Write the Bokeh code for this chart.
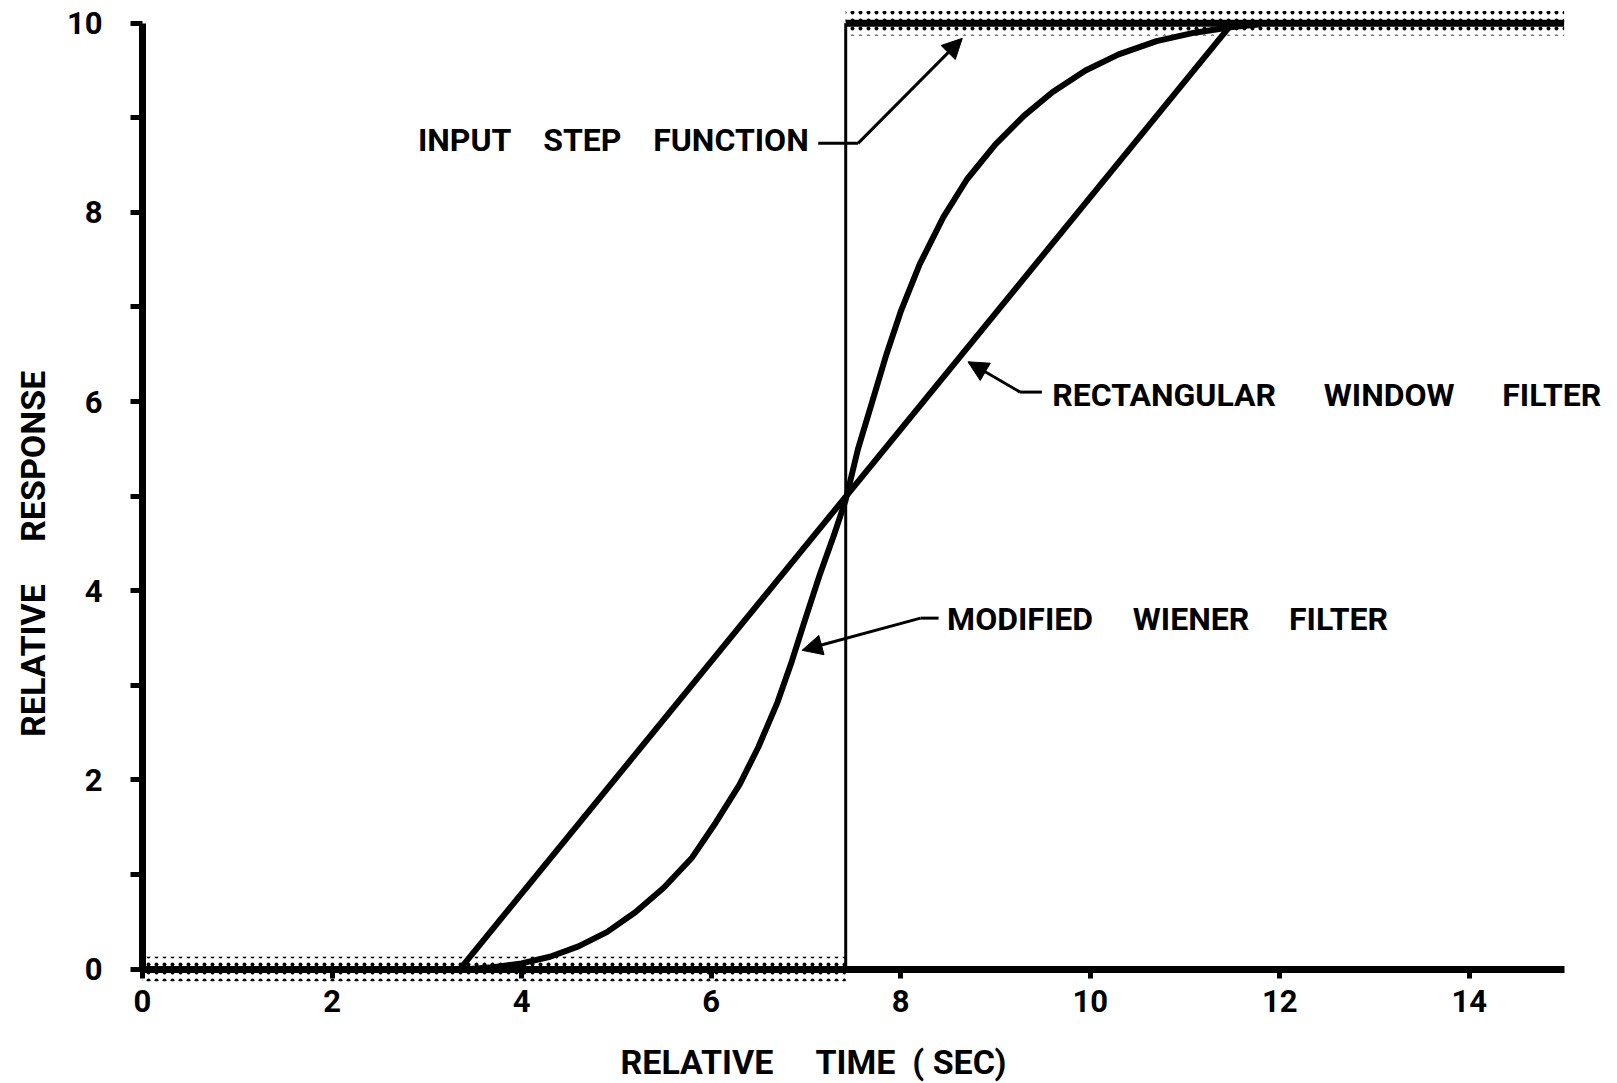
import math

from bokeh.plotting import figure
from bokeh.models import Range1d, Arrow, NormalHead, FixedTicker, Label
from bokeh.core.properties import value
from bokeh.embed import file_html
from bokeh.resources import INLINE

# Input step function
step_time = 7.42
step_low = 0.0
step_high = 10.0
t_start = 0.0
t_end = 15.0

# Rectangular window filter response (linear ramp)
rect_t = [3.35, 11.5]
rect_r = [0.0, 10.0]

# Modified Wiener filter response
wiener_t = [3.45, 3.7, 4.0, 4.3, 4.6, 4.9, 5.2, 5.5, 5.8, 6.05, 6.3, 6.5, 6.7, 6.85,
            7.0, 7.15, 7.3, 7.42, 7.55, 7.7, 7.85, 8.0, 8.2, 8.45, 8.7, 9.0, 9.3,
            9.6, 9.95, 10.3, 10.7, 11.1, 11.5, 11.8]
wiener_r = [0.0, 0.02, 0.06, 0.13, 0.24, 0.39, 0.6, 0.86, 1.18, 1.55, 1.95, 2.35, 2.82, 3.25,
            3.72, 4.18, 4.6, 4.96, 5.5, 6.0, 6.5, 6.95, 7.45, 7.95, 8.35, 8.72, 9.02,
            9.27, 9.5, 9.67, 9.81, 9.9, 9.96, 9.99]

x_ticks = [0, 2, 4, 6, 8, 10, 12, 14]
y_ticks = [0, 2, 4, 6, 8, 10]
y_minor = [1, 3, 5, 7, 9]

FONT = "Roboto"
SP = "\u00a0"

p = figure(width=1617, height=1083, output_backend="svg", toolbar_location=None,
           x_range=Range1d(-1.498, 15.5), y_range=Range1d(-1.21, 10.24),
           min_border_left=0, min_border_right=6, min_border_top=0,
           min_border_bottom=0)
p.outline_line_color = None
p.grid.visible = False
p.background_fill_color = "white"
p.border_fill_color = "white"

# Both axes cross at the origin
p.xaxis.fixed_location = 0
p.xaxis.bounds = (0, 15)
p.xaxis.ticker = FixedTicker(ticks=x_ticks)
p.xaxis.axis_line_width = 7
p.xaxis.major_tick_out = 9
p.xaxis.major_tick_in = 0
p.xaxis.major_tick_line_width = 5
p.xaxis.minor_tick_line_color = None
p.xaxis.major_label_standoff = 12
p.xaxis.major_label_text_font = FONT
p.xaxis.major_label_text_font_style = "bold"
p.xaxis.major_label_text_font_size = "31px"
p.xaxis.major_label_text_color = "black"

p.yaxis.fixed_location = 0
p.yaxis.bounds = (0, 10)
p.yaxis.ticker = FixedTicker(ticks=y_ticks, minor_ticks=y_minor)
p.yaxis.axis_line_width = 7
p.yaxis.major_tick_out = 12
p.yaxis.major_tick_in = 0
p.yaxis.minor_tick_out = 12
p.yaxis.minor_tick_in = 0
p.yaxis.major_tick_line_width = 5
p.yaxis.minor_tick_line_width = 5
p.yaxis.major_label_standoff = 28
p.yaxis.major_label_text_font = FONT
p.yaxis.major_label_text_font_style = "bold"
p.yaxis.major_label_text_font_size = "31px"
p.yaxis.major_label_text_color = "black"

# Axis titles
p.add_layout(Label(x=7.08, y=-0.98, text="RELATIVE" + SP * 5 + "TIME" + SP * 2 + "(" + SP + "SEC)",
                   text_font=FONT, text_font_style="bold", text_font_size="34px",
                   text_align="center", text_baseline="middle", text_color="black"))
p.add_layout(Label(x=-1.15, y=4.39, text="RELATIVE" + SP * 5 + "RESPONSE", angle=math.pi / 2,
                   text_font=FONT, text_font_style="bold", text_font_size="34px",
                   text_align="center", text_baseline="middle", text_color="black"))

# Stippled bands marking the input step
band = 0.13
p.quad(left=t_start, right=step_time, bottom=step_low - band, top=step_low + band,
       fill_alpha=0, line_alpha=0, hatch_pattern="dot", hatch_color="black",
       hatch_scale=8, hatch_weight=4)
p.quad(left=step_time, right=t_end, bottom=step_high - band, top=step_high + band,
       fill_alpha=0, line_alpha=0, hatch_pattern="dot", hatch_color="black",
       hatch_scale=8, hatch_weight=4)

# Input step function
p.line([t_start, step_time], [step_low, step_low], line_color="black", line_width=5)
p.line([step_time, step_time], [step_low, step_high], line_color="black", line_width=3)
p.line([step_time, t_end], [step_high, step_high], line_color="black", line_width=7)

# Filter responses
p.line(rect_t, rect_r, line_color="black", line_width=6)
p.line(wiener_t, wiener_r, line_color="black", line_width=6, line_join="round")

# Labels with leader arrows
def leader(text, tx, ty, align, elbow, tail, tip):
    p.text(x=[tx], y=[ty], text=[text], text_font=value(FONT), text_font_size="32px",
           text_font_style="bold", text_align=align, text_baseline="middle",
           text_color="black")
    p.line([tail[0], elbow[0]], [tail[1], elbow[1]], line_color="black", line_width=3)
    p.add_layout(Arrow(end=NormalHead(size=20, fill_color="black", line_color="black",
                                      line_width=1),
                       x_start=elbow[0], y_start=elbow[1], x_end=tip[0], y_end=tip[1],
                       line_color="black", line_width=3))

leader("INPUT" + SP * 4 + "STEP" + SP * 4 + "FUNCTION", 7.03, 8.76, "right",
       (7.55, 8.73), (7.13, 8.73), (8.65, 9.84))
leader("RECTANGULAR" + SP * 6 + "WINDOW" + SP * 6 + "FILTER", 9.6, 6.07, "left",
       (9.26, 6.10), (9.49, 6.10), (8.71, 6.42))
leader("MODIFIED" + SP * 5 + "WIENER" + SP * 5 + "FILTER", 8.49, 3.70, "left",
       (8.21, 3.71), (8.40, 3.71), (6.96, 3.37))

open("out.html", "w").write(file_html(p, INLINE))
